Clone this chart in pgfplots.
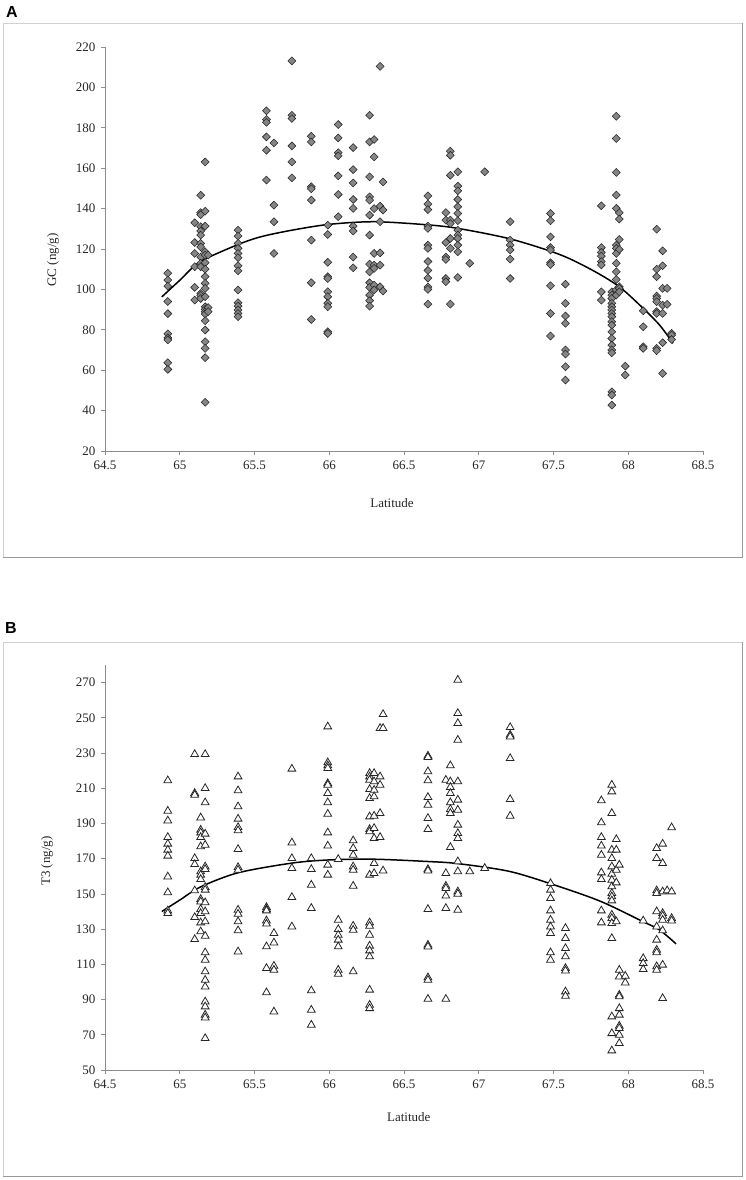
\documentclass[border=0pt]{standalone}
\usepackage{fontspec}
\setmainfont{Liberation Serif}
\newfontfamily\labelfont{Liberation Sans}
\usepackage{pgfplots}
\usepackage{pgfplotstable}
\pgfplotsset{compat=1.18}

\pgfplotstableread{
x y
64.92 108
64.92 104.6
64.92 101.6
64.92 94
64.92 88
64.92 78
64.92 76
64.92 75
64.92 63.7
64.92 60.4
65.10 133
65.10 123.2
65.10 117.8
65.10 111.2
65.10 101
65.10 94.7
65.14 146.6
65.14 138
65.14 137
65.14 131
65.14 128.9
65.14 126.9
65.14 122.8
65.14 121
65.14 116
65.14 112.9
65.14 111.2
65.14 98
65.14 97
65.14 95.5
65.17 163.1
65.17 138.7
65.17 131.3
65.17 118.6
65.17 117
65.17 113.2
65.17 110
65.17 106.3
65.17 103
65.17 100.5
65.17 96.4
65.17 91.4
65.17 90.1
65.17 88.9
65.17 87.8
65.17 84.5
65.17 79.9
65.17 74.1
65.17 70.8
65.17 66.2
65.17 44.1
65.19 117
65.19 91
65.19 89
65.39 129.3
65.39 126.4
65.39 122.8
65.39 120.3
65.39 117.8
65.39 115.7
65.39 111.7
65.39 109.2
65.39 99.7
65.39 93.4
65.39 91.7
65.39 89.8
65.39 88.1
65.39 86.5
65.58 188.4
65.58 184.1
65.58 182.7
65.58 175.5
65.58 168.9
65.58 154.1
65.63 172.5
65.63 141.7
65.63 133.5
65.63 117.8
65.75 213.1
65.75 186.2
65.75 184.6
65.75 171
65.75 163.1
65.75 155.2
65.88 175.8
65.88 173
65.88 150.8
65.88 149.8
65.88 144.2
65.88 124.4
65.88 103.3
65.88 85.1
65.99 131.8
65.99 127.2
65.99 113.4
65.99 106.3
65.99 105.4
65.99 98.8
65.99 96.4
65.99 93.1
65.99 91.4
65.99 79
65.99 78.2
66.06 181.6
66.06 175
66.06 167.7
66.06 166.1
66.06 156.2
66.06 147
66.06 136
66.16 170.2
66.16 159.3
66.16 152.7
66.16 144.5
66.16 140.1
66.16 131.3
66.16 128.9
66.16 116
66.16 110.7
66.27 186.2
66.27 173
66.27 155.7
66.27 145.8
66.27 144.2
66.27 136.8
66.27 126.9
66.27 112.5
66.27 108.7
66.27 103.3
66.27 101
66.27 97.2
66.27 94.4
66.27 91.7
66.30 174.2
66.30 165.6
66.30 140
66.30 117.8
66.30 112
66.30 110.4
66.30 102.1
66.30 99.7
66.34 210.4
66.34 141.2
66.34 133.5
66.34 118.1
66.34 112
66.34 101.3
66.36 153.2
66.36 139.3
66.36 99.2
66.66 146.3
66.66 142.2
66.66 139.5
66.66 131.3
66.66 130.2
66.66 121.9
66.66 120.3
66.66 113.8
66.66 109.4
66.66 105.6
66.66 101.2
66.66 100
66.66 92.7
66.78 138
66.78 134.3
66.78 123.2
66.78 116
66.78 114.8
66.78 105.4
66.78 103.8
66.81 168.4
66.81 166.4
66.81 156.5
66.81 134.3
66.81 132.6
66.81 125.2
66.81 120.3
66.81 92.7
66.86 158.2
66.86 151.1
66.86 148.8
66.86 144.5
66.86 140.9
66.86 137.6
66.86 134
66.86 129.3
66.86 126.9
66.86 125.2
66.86 121.9
66.86 118.6
66.86 105.9
66.94 112.9
67.04 158.2
67.21 133.5
67.21 124.4
67.21 121.9
67.21 119.5
67.21 115
67.21 105.4
67.48 137.6
67.48 134
67.48 126
67.48 120.7
67.48 119.5
67.48 113.2
67.48 112.3
67.48 101.8
67.48 88.1
67.48 76.9
67.58 102.6
67.58 93.1
67.58 86.8
67.58 83.2
67.58 70
67.58 68
67.58 61.7
67.58 55.1
67.82 141.4
67.82 120.7
67.82 118.3
67.82 116.5
67.82 113.8
67.82 112.1
67.82 98.8
67.82 94.7
67.89 98.8
67.89 97.2
67.89 95.5
67.89 93.1
67.89 91.4
67.89 89.8
67.89 88.1
67.89 86.5
67.89 84
67.89 82.3
67.89 79
67.89 75.7
67.89 72.4
67.89 70
67.89 68.6
67.89 49.3
67.89 47.7
67.89 42.7
67.92 185.7
67.92 174.7
67.92 157.9
67.92 146.7
67.92 140.1
67.92 121.9
67.92 120.3
67.92 117.8
67.92 112.9
67.92 108.7
67.92 104.9
67.92 99.7
67.92 97.2
67.94 137.9
67.94 134.8
67.94 124.7
67.94 119.8
67.94 101.3
67.94 100.5
67.94 98.8
67.98 62
67.98 57.6
68.10 89.4
68.10 81.5
68.10 71.6
68.10 70.8
68.19 129.8
68.19 110
68.19 106.3
68.19 96.7
68.19 95.5
68.19 93.9
68.19 89
68.19 88.1
68.19 70.8
68.19 69.7
68.23 119.1
68.23 111.7
68.23 100.5
68.23 92.2
68.23 88.1
68.23 73.6
68.23 58.4
68.26 100.5
68.26 92.6
68.29 78.2
68.29 77.4
68.29 75.2
}\dataA

\pgfplotstableread{
x y
64.88 96.3
65.00 104.5
65.135 113.6
65.38 121.9
65.54 126.0
65.75 129.3
66.00 132.2
66.30 133.5
66.65 132.0
66.86 130.2
67.21 125.0
67.54 117.3
67.76 109.5
67.94 101.3
68.10 90.6
68.21 82.3
68.30 73.3
}\fitA

\pgfplotstableread{
x y
64.92 214.4
64.92 197.1
64.92 191.6
64.92 182.2
64.92 178.4
64.92 175
64.92 171.6
64.92 159.8
64.92 150.8
64.92 140.5
64.92 139
65.10 229.3
65.10 207.2
65.10 206.2
65.10 170.2
65.10 166.8
65.10 151.9
65.10 136.7
65.10 124.2
65.14 193.3
65.14 186.3
65.14 184.8
65.14 182.2
65.14 176.9
65.14 162.7
65.14 160.8
65.14 158.3
65.14 147
65.14 145.6
65.14 141.3
65.14 139
65.14 133.7
65.14 128.6
65.17 229.3
65.17 210
65.17 201.9
65.17 184.1
65.17 177.8
65.17 165.5
65.17 164
65.17 153.8
65.17 152.3
65.17 145.1
65.17 140
65.17 134.3
65.17 126.1
65.17 116.7
65.17 112.5
65.17 105.9
65.17 101.1
65.17 97.3
65.17 88.8
65.17 86
65.17 81.3
65.17 79.7
65.17 68
65.39 216.6
65.39 208.7
65.39 199.6
65.39 192.6
65.39 187.8
65.39 186
65.39 175.4
65.39 165.1
65.39 163.6
65.39 140.9
65.39 138.6
65.39 134.3
65.39 129.2
65.39 117.2
65.58 142.4
65.58 141.3
65.58 140.5
65.58 134.8
65.58 133
65.58 120.1
65.58 107.8
65.58 94
65.63 127.7
65.63 122.3
65.63 109.1
65.63 106.8
65.63 83.1
65.75 221
65.75 179.1
65.75 170.2
65.75 164.6
65.75 148.1
65.75 131.4
65.88 170.2
65.88 164
65.88 155.1
65.88 141.9
65.88 95.1
65.88 84.1
65.88 75.6
65.99 245
65.99 224.6
65.99 222.9
65.99 221.4
65.99 212.8
65.99 211.9
65.99 207.2
65.99 201.9
65.99 195.4
65.99 184.8
65.99 177.3
65.99 166.5
65.99 160.8
66.06 169.7
66.06 135.2
66.06 129.9
66.06 126.7
66.06 123.9
66.06 120.1
66.06 106.8
66.06 104.5
66.16 180.3
66.16 175.9
66.16 172.1
66.16 165.5
66.16 163.6
66.16 154.5
66.16 131.8
66.16 129.5
66.16 105.9
66.27 218.5
66.27 216.6
66.27 214.7
66.27 209.4
66.27 204.3
66.27 193.9
66.27 186.7
66.27 185.4
66.27 160.8
66.27 133.7
66.27 131.8
66.27 126.7
66.27 120.5
66.27 117.8
66.27 114.4
66.27 95.5
66.27 86.9
66.27 85
66.30 218.5
66.30 213.8
66.30 209
66.30 205.3
66.30 194.3
66.30 187.3
66.30 181.6
66.30 167.4
66.30 161.7
66.34 244.1
66.34 216.6
66.34 211.9
66.34 195.8
66.34 182.2
66.36 252
66.36 244.1
66.36 163.2
66.66 228.4
66.66 227.6
66.66 219.5
66.66 214.4
66.66 204.9
66.66 200.5
66.66 193
66.66 186.7
66.66 164
66.66 163.2
66.66 141.3
66.66 121
66.66 120
66.66 102.5
66.66 101.1
66.66 90.3
66.78 214.7
66.78 161.7
66.78 154.5
66.78 153.2
66.78 148.9
66.78 141.9
66.78 90.3
66.81 222.9
66.81 213.8
66.81 210.6
66.81 207.2
66.81 201.9
66.81 198.1
66.81 195.8
66.81 176.5
66.86 271.5
66.86 252.6
66.86 246.9
66.86 237.4
66.86 213.8
66.86 203.4
66.86 197.7
66.86 189.2
66.86 184.4
66.86 181.6
66.86 168.4
66.86 162.7
66.86 151.3
66.86 150
66.86 140.9
66.94 162.7
67.04 164.6
67.21 244.6
67.21 240.3
67.21 239.3
67.21 227
67.21 203.7
67.21 194.3
67.48 156
67.48 152.3
67.48 147.5
67.48 140.5
67.48 135.2
67.48 131.4
67.48 127.7
67.48 116.7
67.48 112.5
67.58 130.5
67.58 124.8
67.58 119.1
67.58 114.4
67.58 107.8
67.58 106.4
67.58 94.5
67.58 92
67.82 203
67.82 190.5
67.82 182.2
67.82 177.3
67.82 172.1
67.82 162.1
67.82 158.3
67.82 140.5
67.82 133.7
67.89 211.9
67.89 208.1
67.89 195.8
67.89 175
67.89 170.2
67.89 165.5
67.89 161.3
67.89 157.9
67.89 154.2
67.89 150.4
67.89 148.5
67.89 146.2
67.89 138.1
67.89 136.2
67.89 133.3
67.89 124.8
67.89 80.3
67.89 70.8
67.89 61
67.92 181
67.92 175
67.92 163.6
67.92 156.4
67.92 134.3
67.94 166.5
67.94 106.8
67.94 103
67.94 92.6
67.94 91.7
67.94 85
67.94 81.3
67.94 75
67.94 73.7
67.94 69.9
67.94 65.2
67.98 103.4
67.98 99.6
68.10 134.8
68.10 113.4
68.10 110.6
68.10 107.2
68.19 175.9
68.19 170.2
68.19 151.9
68.19 150.4
68.19 140
68.19 131.4
68.19 123.9
68.19 118.2
68.19 116.7
68.19 108.8
68.19 106.8
68.23 178.4
68.23 167.4
68.23 151.3
68.23 139
68.23 137.5
68.23 135.2
68.23 129.2
68.23 109.7
68.23 90.7
68.26 151.9
68.29 187.7
68.29 151.3
68.29 136.2
68.29 134.8
}\dataB

\pgfplotstableread{
x y
64.88 140
65.00 146.5
65.14 154
65.39 162
65.75 167.5
66.00 169.3
66.30 169.7
66.66 168.4
66.86 167.2
67.21 162.7
67.54 154.1
67.82 145.6
68.10 134.2
68.21 129.5
68.32 121.6
}\fitB

\pgfplotsset{
  panel/.style={
    scale only axis,
    width=598pt,
    xmin=64.5, xmax=68.5,
    xtick={64.5,65,65.5,66,66.5,67,67.5,68,68.5},
    axis x line*=bottom, axis y line*=left,
    axis line style={draw=black!45, line width=0.7pt},
    tick style={draw=black!45, line width=0.7pt},
    tick align=outside,
    major tick length=4pt,
    /pgf/number format/assume math mode=true,
    ticklabel style={font=\fontsize{13}{15}\selectfont, text=black!85},
    xticklabel style={yshift=-2.5pt},
    yticklabel style={xshift=-2pt},
    label style={font=\fontsize{13}{15}\selectfont, text=black!85},
    xlabel={Latitude},
    clip=false,
  },
}

\begin{document}
\begin{tikzpicture}[x=1pt,y=1pt]
\useasboundingbox (0,0) rectangle (746,1180);
% frames
\draw[black!18, line width=0.8pt] (3,623) -- (3,1157) -- (742,1157);
\draw[black!40, line width=0.8pt] (742,1157) -- (742,623) -- (3,623);
\draw[black!18, line width=0.8pt] (3,4) -- (3,538) -- (742,538);
\draw[black!40, line width=0.8pt] (742,538) -- (742,4) -- (3,4);
\node[font=\labelfont\bfseries\fontsize{16}{18}\selectfont] at (12,1168) {A};
\node[font=\labelfont\bfseries\fontsize{16}{18}\selectfont] at (11,552) {B};

\begin{axis}[panel,
  at={(105pt,729pt)}, anchor=south west,
  height=404pt,
  ymin=20, ymax=220, ytick={20,40,...,220},
  ylabel={GC (ng/g)},
  ylabel style={at={(axis description cs:-0.087,0.473)}, anchor=center},
  xlabel style={at={(axis description cs:0.48,-0.129)}, anchor=center},
]
\addplot[only marks, mark=square*, mark size=2.8pt,
  mark options={rotate=45, fill=black!48, draw=black!85, line width=0.55pt}]
  table[x=x,y=y] {\dataA};
\addplot[black, line width=1.5pt, smooth, no marks] table[x=x,y=y] {\fitA};
\end{axis}

\begin{axis}[panel,
  at={(105pt,110pt)}, anchor=south west,
  height=405pt,
  ymin=50, ymax=280, ytick={50,70,...,270},
  ylabel={T3 (ng/g)},
  ylabel style={at={(axis description cs:-0.097,0.516)}, anchor=center},
  xlabel style={at={(axis description cs:0.508,-0.116)}, anchor=center},
]
\addplot[only marks, mark=triangle*, mark size=4.5pt,
  mark options={fill=white, draw=black!85, line width=0.8pt}]
  table[x=x,y=y] {\dataB};
\addplot[black, line width=1.5pt, smooth, no marks] table[x=x,y=y] {\fitB};
\end{axis}
\end{tikzpicture}
\end{document}
